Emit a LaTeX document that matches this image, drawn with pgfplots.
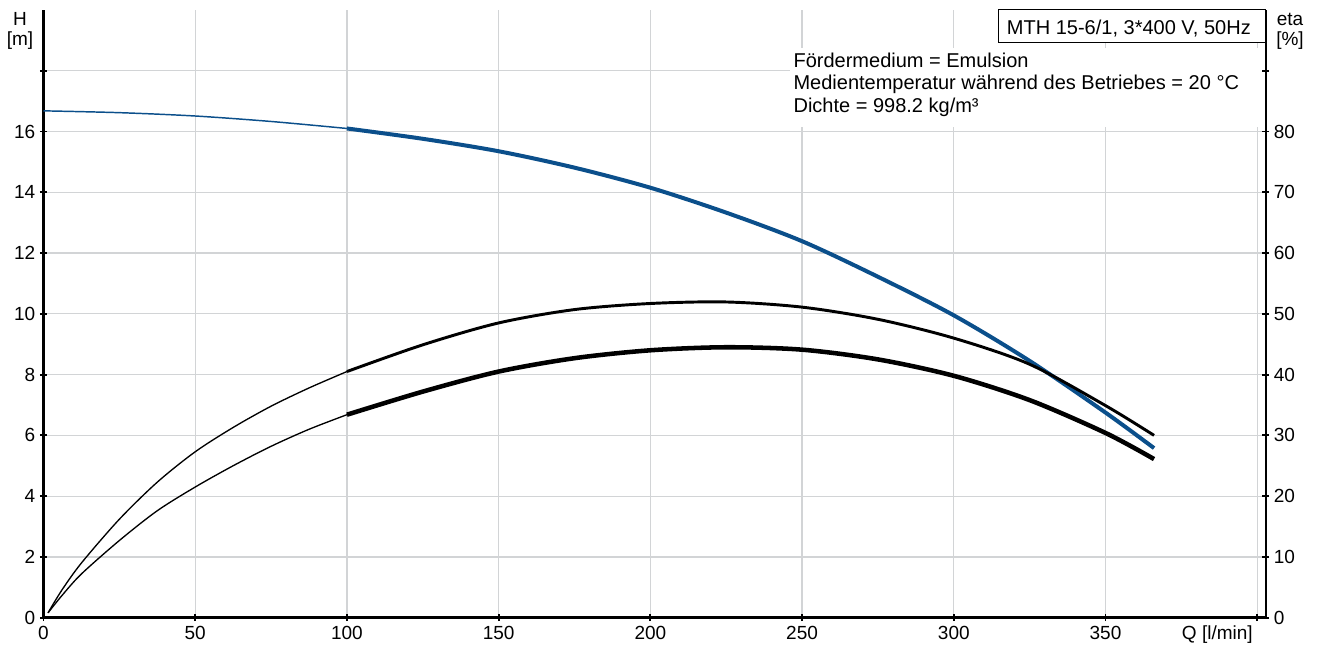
\documentclass[border=0pt]{standalone}
\usepackage{fontspec}
\setmainfont{Liberation Sans}
\usepackage{pgfplots}
\pgfplotsset{compat=1.18}
\definecolor{blueH}{HTML}{0B4F8B}
\definecolor{gridgray}{HTML}{D2D4D6}
\begin{document}
\begin{tikzpicture}
\pgfplotsset{
  common/.style={
    at={(0,0)}, anchor=south west, scale only axis,
    width=916.65pt, height=455.8pt,
    xmin=0, xmax=402.8,
    tick align=outside, major tick length=5.25pt,
    tick style={black, line width=1.4pt},
    /pgf/number format/assume math mode=true,
    ticklabel style={font=\fontsize{14.25}{16}\selectfont},
  },
  nolinearrows/.style={
    axis line style={-, line width=1.8pt, black},
    every outer x axis line/.append style={-},
    every outer y axis line/.append style={-},
    x axis line style={-},
    y axis line style={-},
  }
}
\begin{axis}[common, name=ax,
  ymin=0, ymax=20,
  axis x line=bottom, axis y line=left,
  nolinearrows,
  xtick={0,50,...,400}, xticklabels={0,50,100,150,200,250,300,350,{}},
  ytick={0,2,...,18}, yticklabels={0,2,4,6,8,10,12,14,16,{}},
  grid=major, major grid style={draw=gridgray, line width=0.9pt},
  clip=false,
]
% H curve, thin part
\addplot[blueH, line width=1.1pt, smooth] coordinates {
(0,16.68) (25,16.62) (50,16.51) (75,16.33) (100,16.10)};
% H curve, thick part
\addplot[blueH, line width=3pt, smooth] coordinates {
(100,16.10) (125,15.76) (150,15.35) (175,14.81) (200,14.15) (225,13.33)
(250,12.39) (275,11.22) (300,9.95) (325,8.45) (350,6.75) (366,5.58)};
\end{axis}
\begin{axis}[common,
  ymin=0, ymax=100,
  axis y line=right, axis x line=none,
  nolinearrows,
  ytick={0,10,...,90}, yticklabels={0,10,20,30,40,50,60,70,80,{}},
  clip=false,
]
% eta upper, thin
\addplot[black, line width=1pt, smooth] coordinates {
(1.5,0.8) (6,4.5) (12.5,9.0) (25,16.2) (37.5,22.3) (50,27.3)
(62.5,31.3) (75,34.8) (87.5,37.8) (100,40.5)};
% eta upper, medium
\addplot[black, line width=2.2pt, smooth] coordinates {
(100,40.5) (125,44.9) (150,48.5) (175,50.7) (200,51.7) (225,51.95)
(250,51.1) (275,49.1) (300,46.0) (325,41.7) (350,34.9) (366,30.0)};
% eta lower, thin
\addplot[black, line width=1pt, smooth] coordinates {
(1.5,0.8) (6,3.6) (12.5,7.2) (25,12.7) (37.5,17.6) (50,21.5)
(62.5,25.0) (75,28.2) (87.5,31.0) (100,33.4)};
% eta lower, thick
\addplot[black, line width=3.4pt, smooth] coordinates {
(100,33.4) (125,37.2) (150,40.5) (175,42.7) (200,44.0) (225,44.5) (250,44.1)
(275,42.5) (300,39.8) (325,35.8) (350,30.4) (366,26.1)};
\end{axis}
% annotation block
\fill[white] (559.9pt,368pt) rectangle (913.9pt,427.3pt);
\begin{scope}[every node/.style={font=\fontsize{15}{17}\selectfont, inner sep=0pt, anchor=base west}]
\node at (562.35pt,412.8pt) {Fördermedium = Emulsion};
\node at (562.35pt,395.9pt) {Medientemperatur während des Betriebes = 20 °C};
\node at (562.35pt,379.0pt) {Dichte = 998.2 kg/m³};
\end{scope}
% type box
\draw[black, line width=0.8pt, fill=white] (716.1pt,431.25pt) rectangle (916.65pt,455.8pt);
\node[font=\fontsize{15}{17}\selectfont, inner sep=0pt, anchor=base west] at (722.4pt,437.5pt) {MTH 15-6/1, 3*400 V, 50Hz};
% right axis line over box edge
\draw[black, line width=1.8pt] (916.65pt,0pt) -- (916.65pt,455.8pt);
% axis labels
\node[font=\fontsize{14.25}{16}\selectfont, align=center, inner sep=0pt] at (-17.6pt,440pt) {H\\[-1pt][m]};
\node[font=\fontsize{14.25}{16}\selectfont, align=center, inner sep=0pt] at (934.9pt,440pt) {eta\\[-1pt][\%]};
\node[font=\fontsize{14.25}{16}\selectfont, inner sep=0pt, anchor=east] at (907.1pt,-13pt) {Q [l/min]};
% bounding box
\pgfresetboundingbox
\path (-32.625pt,-22.725pt) rectangle ++(987.75pt,486pt);
\end{tikzpicture}
\end{document}
